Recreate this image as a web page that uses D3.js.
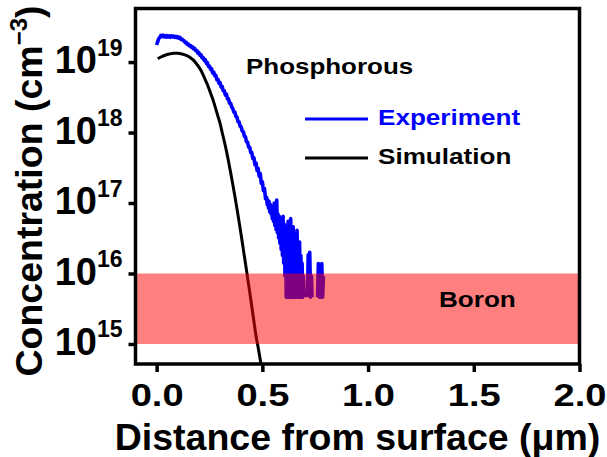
<!DOCTYPE html>
<html>
<head>
<meta charset="utf-8">
<script src="https://cdn.jsdelivr.net/npm/d3@7/dist/d3.min.js"></script>
<style>
  html, body { margin: 0; padding: 0; background: #fff; }
  svg text { font-family: "Liberation Sans", Arial, Helvetica, sans-serif; font-weight: bold; }
</style>
</head>
<body>
<svg id="chart" width="607" height="457"></svg>
<script>
// ---- data ----------------------------------------------------------
const xTickValues = [0, 0.5, 1.0, 1.5, 2.0];
const xTickLabels = ["0.0", "0.5", "1.0", "1.5", "2.0"];
const yTickValues = [1e15, 1e16, 1e17, 1e18, 1e19];
const yTickExponents = ["15", "16", "17", "18", "19"];

// boron background doping window (cm^-3)
const boronRange = [1e15, 1e16];

// measured phosphorus profile (SIMS): depth in µm, concentration in cm^-3
// null = no counts recorded at that depth
const expDepth = [
  0.000, 0.005, 0.010, 0.015, 0.020, 0.025, 0.030, 0.035, 0.040, 0.045,
  0.050, 0.055, 0.060, 0.065, 0.070, 0.075, 0.080, 0.085, 0.090, 0.095,
  0.100, 0.105, 0.110, 0.115, 0.120, 0.125, 0.130, 0.135, 0.140, 0.145,
  0.150, 0.155, 0.160, 0.165, 0.170, 0.175, 0.180, 0.185, 0.190, 0.195,
  0.200, 0.205, 0.210, 0.215, 0.220, 0.225, 0.230, 0.235, 0.240, 0.245,
  0.250, 0.255, 0.260, 0.265, 0.270, 0.275, 0.280, 0.285, 0.290, 0.295,
  0.300, 0.305, 0.310, 0.315, 0.320, 0.325, 0.330, 0.335, 0.340, 0.345,
  0.350, 0.355, 0.360, 0.365, 0.370, 0.375, 0.380, 0.385, 0.390, 0.395,
  0.400, 0.405, 0.410, 0.415, 0.420, 0.425, 0.430, 0.435, 0.440, 0.445,
  0.450, 0.455, 0.460, 0.465, 0.470, 0.475, 0.480, 0.485, 0.490, 0.495,
  0.500, 0.505, 0.510, 0.515, 0.520, 0.523, 0.526, 0.529, 0.532, 0.535,
  0.538, 0.541, 0.544, 0.547, 0.550, 0.553, 0.556, 0.559, 0.562, 0.565,
  0.568, 0.571, 0.574, 0.577, 0.580, 0.583, 0.586, 0.589, 0.592, 0.595,
  0.598, 0.601, 0.604, 0.607, 0.610, 0.613, 0.616, 0.619, 0.622, 0.625,
  0.628, 0.631, 0.634, 0.637, 0.640, 0.643, 0.646, 0.649, 0.652, 0.655,
  0.658, 0.661, 0.664, 0.667, 0.670, 0.673, 0.676, 0.679, 0.682, 0.685,
  0.688, 0.691, 0.694, 0.697, 0.700, 0.713, 0.717, 0.720, 0.724, 0.728,
  0.732, 0.735, 0.748, 0.761, 0.765, 0.769, 0.773, 0.777, 0.781, 0.785,
  0.789
];
const expConc = [
  1.75e19, 1.95e19, 2.15e19, 2.25e19, 2.40e19, 2.30e19, 2.40e19, 2.28e19, 2.36e19, 2.26e19,
  2.38e19, 2.27e19, 2.35e19, 2.25e19, 2.36e19, 2.28e19, 2.34e19, 2.24e19, 2.32e19, 2.22e19,
  2.30e19, 2.18e19, 2.24e19, 2.10e19, 2.12e19, 2.02e19, 2.00e19, 1.88e19, 1.90e19, 1.78e19,
  1.80e19, 1.70e19, 1.72e19, 1.62e19, 1.64e19, 1.54e19, 1.56e19, 1.45e19, 1.46e19, 1.34e19,
  1.36e19, 1.25e19, 1.27e19, 1.15e19, 1.16e19, 1.06e19, 1.08e19, 9.6e18, 9.8e18, 8.7e18,
  8.8e18, 7.9e18, 8.0e18, 7.0e18, 7.2e18, 6.4e18, 6.5e18, 5.6e18, 5.7e18, 5.0e18,
  5.1e18, 4.4e18, 4.5e18, 3.9e18, 3.9e18, 3.4e18, 3.5e18, 3.0e18, 3.0e18, 2.6e18,
  2.6e18, 2.3e18, 2.2e18, 1.95e18, 1.95e18, 1.68e18, 1.66e18, 1.42e18, 1.42e18, 1.22e18,
  1.20e18, 1.04e18, 1.03e18, 8.8e17, 8.7e17, 7.4e17, 7.3e17, 6.2e17, 6.2e17, 5.2e17,
  5.2e17, 4.3e17, 4.4e17, 3.5e17, 3.7e17, 2.9e17, 3.1e17, 2.4e17, 2.6e17, 1.9e17,
  2.0e17, 1.5e17, 1.6e17, 1.15e17, 1.20e17, 9.5e16, 1.10e17, 8.5e16, 1.05e17, 7.5e16,
  9.5e16, 7.0e16, 9.0e16, 6.0e16, 8.5e16, 5.5e16, 1.0e17, 4.8e16, 9.0e16, 4.2e16,
  1.1e17, 3.8e16, 7.0e16, 3.2e16, 6.5e16, 2.7e16, 6.0e16, 2.2e16, 5.5e16, 1.8e16,
  6.5e16, 1.4e16, 5.0e16, 9.2e15, 4.6e16, 4.6e15, 3.7e16, 9.2e15, 5.5e16, 4.6e15,
  4.1e16, 1.4e16, 6.0e16, 4.6e15, 3.2e16, 9.2e15, 4.6e16, 4.6e15, 2.8e16, 1.4e16,
  3.7e16, 4.6e15, 4.1e16, 9.2e15, 2.3e16, 4.6e15, 2.8e16, 4.6e15, 1.8e16, 9.2e15,
  1.4e16, 4.6e15, 9.2e15, 4.6e15, null, 4.6e15, 1.84e16, 9.2e15, 2.0e16, 4.6e15,
  9.2e15, 4.6e15, null, 4.6e15, 1.38e16, 4.6e15, 9.2e15, 4.6e15, 1.38e16, 4.6e15,
  9.2e15
];

// simulated phosphorus profile
const simDepth = [
  0.005, 0.02, 0.04, 0.06, 0.08, 0.10, 0.12, 0.14, 0.16, 0.18,
  0.19, 0.20, 0.21, 0.22, 0.23, 0.24, 0.25, 0.26, 0.27, 0.28,
  0.29, 0.30, 0.31, 0.32, 0.33, 0.34, 0.35, 0.36, 0.37, 0.38,
  0.39, 0.40, 0.41, 0.42, 0.43, 0.44, 0.45, 0.46, 0.47, 0.48,
  0.49, 0.50
];
const simConc = [
  1.12e19, 1.18e19, 1.25e19, 1.30e19, 1.33e19, 1.33e19, 1.30e19, 1.24e19, 1.15e19, 1.02e19,
  9.3e18, 8.5e18, 7.6e18, 6.6e18, 5.6e18, 4.8e18, 4.0e18, 3.3e18, 2.7e18, 2.15e18,
  1.7e18, 1.35e18, 1.0e18, 7.5e17, 5.5e17, 3.9e17, 2.7e17, 1.85e17, 1.25e17, 8.3e16,
  5.4e16, 3.5e16, 2.2e16, 1.4e16, 8.8e15, 5.5e15, 3.4e15, 2.1e15, 1.3e15, 9.0e14,
  6.0e14, 4.0e14
];

const seriesNames = ["Experiment", "Simulation"];
const seriesColors = ["#0000ff", "#000000"];
const annotationPhos = "Phosphorous";
const annotationBoron = "Boron";

// ---- layout --------------------------------------------------------
const plot = { left: 135.5, right: 579.5, top: 8.5, bottom: 364 };
const svg = d3.select("#chart");

const x = d3.scaleLinear().domain([-0.1, 2.0]).range([plot.left, plot.right]);
const y = d3.scaleLog().domain([Math.pow(10, 14.716), Math.pow(10, 19.76)]).range([plot.bottom, plot.top]);

svg.append("defs").append("clipPath").attr("id", "plotClip")
  .append("rect")
  .attr("x", plot.left).attr("y", plot.top)
  .attr("width", plot.right - plot.left).attr("height", plot.bottom - plot.top);

const body = svg.append("g").attr("clip-path", "url(#plotClip)");

const expData = expDepth.map((d, i) => ({ x: d, c: expConc[i] }));
const simData = simDepth.map((d, i) => ({ x: d, c: simConc[i] }));

const expLine = d3.line()
  .defined(d => d.c != null)
  .x(d => x(d.x)).y(d => y(d.c));
const simLine = d3.line()
  .x(d => x(d.x)).y(d => y(d.c))
  .curve(d3.curveMonotoneX);

body.append("path").datum(simData)
  .attr("d", simLine)
  .attr("fill", "none").attr("stroke", seriesColors[1])
  .attr("stroke-width", 3).attr("stroke-linejoin", "round");

body.append("path").datum(expData)
  .attr("d", expLine)
  .attr("fill", "none").attr("stroke", seriesColors[0])
  .attr("stroke-width", 3.6).attr("stroke-linejoin", "round");

// translucent boron window laid over the profiles
body.append("rect")
  .attr("x", plot.left).attr("width", plot.right - plot.left)
  .attr("y", y(boronRange[1])).attr("height", y(boronRange[0]) - y(boronRange[1]))
  .attr("fill", "#ff0000").attr("fill-opacity", 0.5);

// ---- axes ----------------------------------------------------------
const gx = svg.append("g").attr("transform", `translate(0,${plot.bottom})`)
  .call(d3.axisBottom(x).tickValues(xTickValues).tickSize(8).tickFormat(""));
gx.select(".domain").remove();
gx.selectAll(".tick line").attr("stroke", "#000").attr("stroke-width", 3.5);
gx.selectAll(".tick").append("text")
  .attr("transform", "translate(0,42) scale(1.19,1)")
  .attr("text-anchor", "middle")
  .attr("font-size", 32).attr("fill", "#000")
  .text(d => xTickLabels[xTickValues.indexOf(d)]);

const gy = svg.append("g").attr("transform", `translate(${plot.left},0)`)
  .call(d3.axisLeft(y).tickValues(yTickValues).tickSize(7).tickFormat(""));
gy.select(".domain").remove();
gy.selectAll(".tick line").attr("stroke", "#000").attr("stroke-width", 3.5);
gy.selectAll(".tick").each(function (d) {
  const t = d3.select(this).append("text")
    .attr("transform", "translate(-13,10.7)")
    .attr("text-anchor", "end").attr("fill", "#000");
  t.append("tspan").attr("font-size", 38).text("10");
  t.append("tspan").attr("font-size", 23).attr("dy", -17.7)
    .text(yTickExponents[yTickValues.indexOf(d)]);
});

// frame
svg.append("rect")
  .attr("x", plot.left).attr("y", plot.top)
  .attr("width", plot.right - plot.left).attr("height", plot.bottom - plot.top)
  .attr("fill", "none").attr("stroke", "#000").attr("stroke-width", 3.5);

// axis titles
svg.append("text")
  .attr("x", (plot.left + plot.right) / 2).attr("y", 450)
  .attr("text-anchor", "middle").attr("font-size", 37.5).attr("fill", "#000")
  .text("Distance from surface (μm)");

const yTitle = svg.append("text")
  .attr("transform", "translate(42,191) rotate(-90)")
  .attr("text-anchor", "middle").attr("font-size", 37.5).attr("fill", "#000");
yTitle.append("tspan").text("Concentration (cm");
yTitle.append("tspan").attr("font-size", 24).attr("dy", -15).text("−3");
yTitle.append("tspan").attr("dy", 15).text(")");

// annotations
svg.append("text")
  .attr("transform", "translate(246,74) scale(1.18,1)")
  .attr("font-size", 22).attr("fill", "#000").text(annotationPhos);
svg.append("text")
  .attr("transform", "translate(439,306.5) scale(1.16,1)")
  .attr("font-size", 22.5).attr("fill", "#000").text(annotationBoron);

// legend
const legendRows = [119, 158];
seriesNames.forEach((name, i) => {
  svg.append("line")
    .attr("x1", 305).attr("x2", 368)
    .attr("y1", legendRows[i]).attr("y2", legendRows[i])
    .attr("stroke", seriesColors[i]).attr("stroke-width", 3);
  svg.append("text")
    .attr("transform", `translate(378,${legendRows[i] + 6}) scale(1.16,1)`)
    .attr("font-size", 22.5).attr("fill", seriesColors[i]).text(name);
});
</script>
</body>
</html>
